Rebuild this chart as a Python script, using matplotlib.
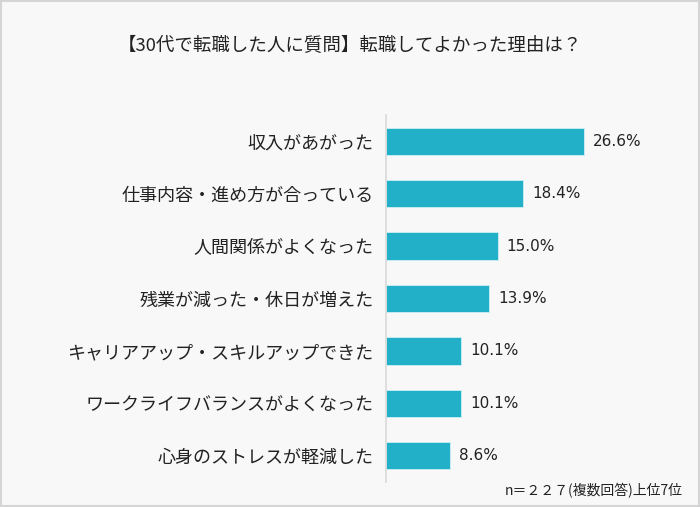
import matplotlib.pyplot as plt

plt.rcParams['font.family'] = ['Noto Sans CJK JP', 'DejaVu Sans']

labels = ['収入があがった', '仕事内容・進め方が合っている', '人間関係がよくなった',
          '残業が減った・休日が増えた', 'キャリアアップ・スキルアップできた',
          'ワークライフバランスがよくなった', '心身のストレスが軽減した']
values = [26.6, 18.4, 15.0, 13.9, 10.1, 10.1, 8.6]

bg = '#f8f8f8'
fig = plt.figure(figsize=(7, 5.07), dpi=100, facecolor=bg)
ax = fig.add_axes([386 / 700, 1 - 482 / 507, 294 / 700, 367 / 507])
ax.set_facecolor(bg)

y = range(len(values))
ax.barh(y, values, height=0.52, color='#21b0c8', edgecolor='#cfeff5', linewidth=0.6)
for i, v in enumerate(values):
    ax.text(v + 1.2, i, f'{v:.1f}%', va='center', ha='left', fontsize=11,
            family='DejaVu Sans', color='#222222')

ax.set_ylim(6.5, -0.5)
ax.set_xlim(0, 39.5)
ax.set_yticks(list(y))
ax.set_yticklabels(labels, fontsize=13, color='#222222')
ax.tick_params(axis='y', length=0, pad=9)
ax.set_xticks([])
for s in ['top', 'right', 'bottom']:
    ax.spines[s].set_visible(False)
ax.spines['left'].set_color('#d9d9d9')
ax.spines['left'].set_linewidth(1.2)

fig.text(0.5, 1 - 46 / 507, '【30代で転職した人に質問】転職してよかった理由は？',
         ha='center', va='center', fontsize=13.3, color='#222222')
fig.text(683 / 700, 1 - 491 / 507, 'n＝２２７(複数回答)上位7位',
         ha='right', va='center', fontsize=10, color='#222222')

# outer border
fig.patches.append(plt.Rectangle((0.001, 0.001), 0.998, 0.997, transform=fig.transFigure,
                                 fill=False, edgecolor='#d5d5d5', linewidth=1.5))

fig.savefig('out.png', dpi=100, facecolor=bg)
